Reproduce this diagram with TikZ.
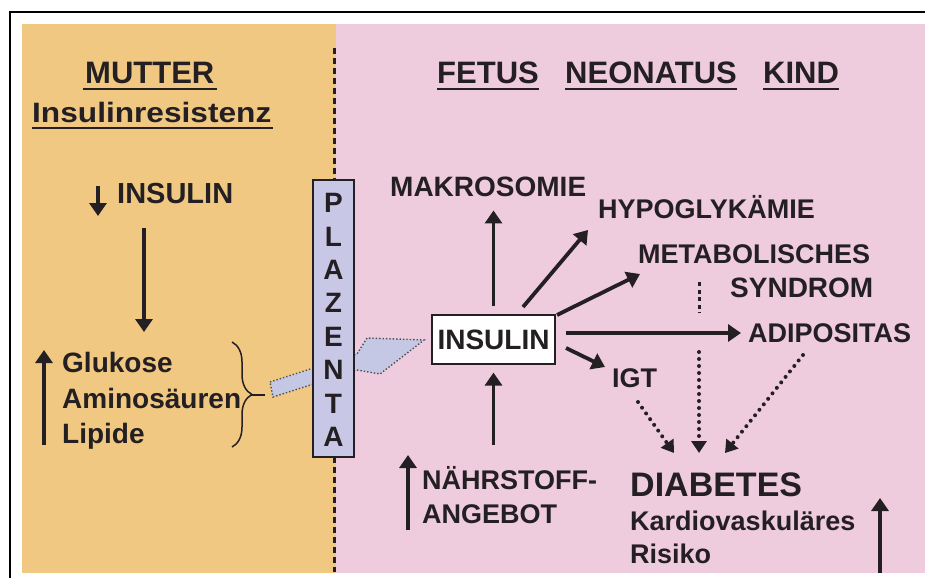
\documentclass[tikz,border=0pt]{standalone}
\usepackage{fontspec}
\setmainfont{Liberation Sans}
\usetikzlibrary{arrows.meta,decorations.pathreplacing}
\definecolor{mutter}{RGB}{240,200,130}
\definecolor{kind}{RGB}{238,204,222}
\definecolor{plaz}{RGB}{200,200,230}
\definecolor{ink}{RGB}{35,31,34}
\definecolor{flowA}{RGB}{196,200,228}
\definecolor{flowB}{RGB}{240,241,250}
\tikzset{
 lbl/.style={anchor=base west, inner sep=0pt, text=ink, font=\bfseries\fontsize{#1}{#1}\selectfont},
 lbl/.default=27,
 arr/.style={draw=ink, line width=3.8pt, -{Triangle[length=13pt,width=17pt]}},
 dotarr/.style={draw=ink, line width=4pt, line cap=round, dash pattern=on 0pt off 7pt, -{Triangle[length=12pt,width=15pt]}},
 uline/.style={draw=ink, line width=2.2pt},
 plet/.style={inner sep=0pt, text=ink, font=\bfseries\fontsize{28}{28}\selectfont},
 border/.style={draw=ink, line width=3pt, dash pattern=on 6pt off 4pt},
}
\begin{document}
\begin{tikzpicture}[x=1pt,y=-1pt]
\useasboundingbox (0,0) rectangle (925,578);
% backgrounds
\fill[mutter] (22,24) rectangle (336,573);
\fill[kind] (336,24) rectangle (925,573);
\draw[line width=2pt] (10,578) -- (10,12) -- (925,12);
% dashed border line
\coordinate (b0) at (334,48); \coordinate (b1) at (334,180);
\coordinate (b2) at (334,457); \coordinate (b3) at (334,572);
\draw[border] (b0) -- (b1);
\draw[border] (b2) -- (b3);
% headings
\node[lbl=31] (mutter) at (85,83) {MUTTER};
\draw[uline] ([xshift=-2pt,yshift=-6pt]mutter.base west) -- ([xshift=2pt,yshift=-6pt]mutter.base east);
\node[lbl=28] (ires) at (32,122) {\scalebox{1.13}[1]{Insulinresistenz}};
\draw[uline, line width=1.5pt] ([yshift=-6pt]ires.base west) -- ([xshift=1pt,yshift=-6pt]ires.base east);
\node[lbl=31] (fetus) at (437,83) {FETUS};
\node[lbl=31] (neo) at (565,83) {NEONATUS};
\node[lbl=31] (kindh) at (763,83) {KIND};
\foreach \n in {fetus,neo,kindh}
  \draw[uline] ([yshift=-6pt]\n.base west) -- ([yshift=-6pt]\n.base east);
% mother side
\node[lbl=29] (insm) at (117,203) {INSULIN};
\coordinate (d0) at (98,186); \coordinate (d1) at (98,216);
\draw[arr] (d0) -- (d1);
\coordinate (l0) at (144,228); \coordinate (l1) at (144,332);
\draw[arr] (l0) -- (l1);
\node[lbl=28] (glu) at (62,372) {Glukose};
\node[lbl=28] (ami) at (62,408) {Aminosäuren};
\node[lbl=28] (lip) at (62,443) {Lipide};
\coordinate (u0) at (44,445); \coordinate (u1) at (44,350);
\draw[arr] (u0) -- (u1);
\draw[ink, line width=1.5pt, decorate, decoration={brace, amplitude=20pt}] (232,342) -- (232,447);
\coordinate (bt) at (251,395); \coordinate (bs) at (265,395);
\draw[ink, line width=2.4pt] (bt) -- (bs);
% flow arrow through placenta
\path[draw=ink!80, line width=1.4pt, dotted, left color=flowA, middle color=flowB, right color=flowA]
  (270,382) -- (357,354) -- (367,338) -- (424,340) -- (380,374) -- (357,370) -- (273,397) -- cycle;
% placenta
\node[draw=ink, line width=1.5pt, fill=plaz, minimum width=41pt, minimum height=277pt, inner sep=0pt] (plaz) at (333.5,318.5) {};
\foreach \l [count=\i from 0] in {P,L,A,Z,E,N,T,A}
  \node[plet] (pl\i) at (333.5,203+33.4*\i) {\l};
% fetus side
\node[draw=ink, fill=white, line width=1.2pt, minimum width=123pt, minimum height=49pt, inner sep=0pt, text=ink, font=\bfseries\fontsize{28}{28}\selectfont] (ins) at (493.5,339.5) {INSULIN};
\node[lbl=28] (mak) at (390,196) {MAKROSOMIE};
\node[lbl=27] (hypo) at (598,218) {HYPOGLYKÄMIE};
\node[lbl=27] (meta) at (638,263) {METABOLISCHES};
\node[lbl=28] (syn) at (730,297) {SYNDROM};
\node[lbl=27] (adi) at (748,342) {ADIPOSITAS};
\node[lbl=27] (igt) at (612,387) {IGT};
\node[lbl=27] (naehr) at (422,489) {NÄHRSTOFF-};
\node[lbl=27] (ang) at (422,523) {ANGEBOT};
\node[lbl=34] (dia) at (630,496) {DIABETES};
\node[lbl=27] (kard) at (630,530) {Kardiovaskuläres};
\node[lbl=27] (ris) at (630,563) {Risiko};
% solid arrows
\draw[arr, shorten <=8pt, shorten >=14pt] (ins.north) -- (ins.north |- mak.south);
\coordinate (h0) at (523,307); \coordinate (h1) at (588,230);
\draw[arr] (h0) -- (h1);
\coordinate (m0) at (557,315); \coordinate (m1) at (640,274);
\draw[arr] (m0) -- (m1);
\coordinate (a0) at (566,333); \coordinate (a1) at (741,333);
\draw[arr] (a0) -- (a1);
\coordinate (i0) at (566,348); \coordinate (i1) at (605,367);
\draw[arr] (i0) -- (i1);
\coordinate (n0) at (493.5,445);
\draw[arr, shorten >=8pt] (n0) -- (ins.south);
\coordinate (nu0) at (408,530); \coordinate (nu1) at (408,455);
\draw[arr] (nu0) -- (nu1);
\coordinate (r0) at (880,573); \coordinate (r1) at (880,498);
\draw[arr] (r0) -- (r1);
% dotted
\coordinate (s0) at (699,282); \coordinate (s1) at (699,313);
\draw[ink, line width=3pt, dash pattern=on 4pt off 3.5pt] (s0) -- (s1);
\coordinate (g0) at (638,402); \coordinate (g1) at (674,453);
\draw[dotarr] (g0) -- (g1);
\coordinate (v0) at (699,352); \coordinate (v1) at (699,453);
\draw[dotarr] (v0) -- (v1);
\coordinate (w0) at (803,355); \coordinate (w1) at (725,453);
\draw[dotarr] (w0) -- (w1);
\end{tikzpicture}
\end{document}
